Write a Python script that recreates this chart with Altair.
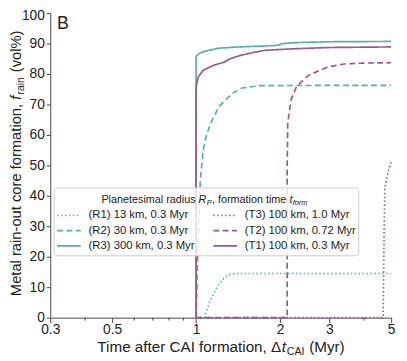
import altair as alt
import pandas as pd

# ---------------- data ----------------
series = ["R1", "R2", "R3", "T3", "T2", "T1"]
legend_labels = ["(R1) 13 km, 0.3 Myr", "(R2) 30 km, 0.3 Myr", "(R3) 300 km, 0.3 Myr",
                 "(T3) 100 km, 1.0 Myr", "(T2) 100 km, 0.72 Myr", "(T1) 100 km, 0.3 Myr"]
colors = ["#56b29e", "#56b29e", "#56b29e", "#9b5a85", "#9b5a85", "#9b5a85"]
dashes = [[1.5, 2.5], [6, 3.5], [1, 0], [1.5, 2.5], [6, 3.5], [1, 0]]

r1_t = [1.0, 1.07, 1.12, 1.18, 1.245, 1.31, 1.39, 5.0]
r1_f = [0, 0, 5.3, 9.6, 12.6, 14.1, 14.5, 14.5]
r2_t = [1.0, 1.01, 1.02, 1.035, 1.06, 1.09, 1.13, 1.21, 1.35, 1.46, 1.7, 5.0]
r2_f = [0, 15, 30, 45, 55, 60, 64, 69.4, 73.7, 75.4, 76.2, 76.3]
r3_t = [1.0, 1.0, 1.02, 1.05, 1.09, 1.21, 1.43, 1.77, 1.95, 2.05, 2.25, 3.0, 5.0]
r3_f = [0, 85.7, 86.6, 87.2, 87.6, 88.5, 88.9, 89.2, 89.4, 90.0, 90.3, 90.6, 90.7]
t3_t = [1.0, 4.68, 4.70, 4.72, 4.75, 4.88, 5.0]
t3_f = [0, 0, 15, 30, 42.6, 48, 51]
t2_t = [1.0, 2.12, 2.12, 2.13, 2.19, 2.29, 2.53, 2.96, 3.39, 3.98, 5.0]
t2_f = [0, 0, 50, 64, 71.6, 75.9, 79.6, 82.3, 83.3, 83.6, 83.7]
t1_t = [1.0, 1.0, 1.017, 1.059, 1.149, 1.262, 1.314, 1.426, 1.59, 1.77, 2.26, 3.0, 5.0]
t1_f = [0, 75.8, 79, 81.2, 82.8, 83.9, 84.9, 86.0, 87.0, 87.8, 88.3, 88.7, 88.9]

x_ticks = [0.3, 0.5, 1, 2, 3, 5]
x_minor = [0.4, 0.6, 0.7, 0.8, 0.9, 4]
y_ticks = [0, 10, 20, 30, 40, 50, 60, 70, 80, 90, 100]

# ---------------- helpers ----------------
FONT = "Liberation Sans"
INK = "#222222"
AX = "#444444"
W_PX, H_PX = 347, 310

AW = {' ': 278, 'P': 667, 'l': 222, 'a': 556, 'n': 556, 'e': 556, 't': 278, 's': 500,
      'i': 222, 'm': 833, 'r': 333, 'd': 556, 'u': 556, 'R': 722, ',': 278, 'f': 278,
      'o': 556, 'T': 611, 'C': 722, 'A': 667, 'I': 278, 'M': 833, 'y': 500, '(': 333,
      ')': 333, 'v': 500, '%': 889, '-': 333, 'c': 500, 'Δ': 668, 'k': 500, '.': 278}


def tw(s, size):
    return sum(AW.get(c, 556) for c in s) * size / 1000.0


one = pd.DataFrame({"k": [0]})


def txt(s, x, y, size, italic=False, angle=0, align="left", baseline="alphabetic"):
    kw = dict(font=FONT, fontSize=size, color=INK, align=align, baseline=baseline, text=s)
    if italic:
        kw["fontStyle"] = "italic"
    if angle:
        kw["angle"] = angle
    return alt.Chart(one).mark_text(**kw).encode(x=alt.value(x), y=alt.value(y))


def compose_h(head, tail, anchor_x, y):
    """head is right-aligned at anchor_x; tail pieces follow to the right."""
    out = [txt(head[0], anchor_x, y, head[1], head[2], align="right")]
    x = anchor_x
    for s, size, italic, dy, gap in tail:
        x += gap
        out.append(txt(s, x, y + dy, size, italic))
        x += tw(s, size)
    return out


def compose_v(head, tail, x, anchor_y):
    """Rotated text reading upwards; head ends at anchor_y, tail continues upward."""
    out = [txt(head[0], x, anchor_y, head[1], head[2], angle=270, align="right")]
    y = anchor_y
    for s, size, italic, dx, gap in tail:
        y -= gap
        out.append(txt(s, x + dx, y, size, italic, angle=270))
        y -= tw(s, size)
    return out


# ---------------- curves ----------------
rows = []
for s, ts, fs in zip(series, [r1_t, r2_t, r3_t, t3_t, t2_t, t1_t],
                     [r1_f, r2_f, r3_f, t3_f, t2_f, t1_f]):
    for i, (t, f) in enumerate(zip(ts, fs)):
        rows.append({"series": s, "t": t, "f": f, "i": i})
df = pd.DataFrame(rows)

xscale = alt.Scale(type="log", domain=[0.3, 5], nice=False)
lines = alt.Chart(df).mark_line(strokeWidth=1.7, strokeCap="butt").encode(
    x=alt.X("t:Q", scale=xscale, title=None,
            axis=alt.Axis(values=x_ticks, format="~g", tickSize=5, labelPadding=0,
                          labelFlush=False)),
    y=alt.Y("f:Q", scale=alt.Scale(domain=[0, 100], nice=False), title=None,
            axis=alt.Axis(values=y_ticks, tickSize=4, labelPadding=2,
                          labelOffset={"condition": {"test": "datum.value === 100", "value": 3},
                                       "value": 0})),
    color=alt.Color("series:N", scale=alt.Scale(domain=series, range=colors), legend=None),
    strokeDash=alt.StrokeDash("series:N", scale=alt.Scale(domain=series, range=dashes),
                              legend=None),
    order="i:Q",
)

minor = alt.Chart(pd.DataFrame({"v": x_minor})).mark_rule(color=AX, strokeWidth=1).encode(
    x=alt.X("v:Q", title=None), y=alt.value(H_PX), y2=alt.value(H_PX + 3))

layers = [lines, minor]

# ---------------- legend ----------------
layers.append(alt.Chart(one).mark_rect(fill="white", fillOpacity=0.8, stroke="#cccccc",
                                       strokeWidth=1, cornerRadius=3).encode(
    x=alt.value(4), x2=alt.value(314), y=alt.value(178), y2=alt.value(247)))

SP11 = tw(" ", 11)
layers += compose_h(("Planetesimal radius", 11, False),
                    [("R", 11, True, 0, SP11), ("P", 7.5, True, 2, 0.3),
                     (", formation time", 11, False, 0, 0.3),
                     ("t", 11, True, 0, SP11), ("form", 7.5, True, 2, 0.3)],
                    52 + tw("Planetesimal radius", 11), 193)

row_y = [206, 221.5, 237]
for k, (s, lab) in enumerate(zip(series, legend_labels)):
    col = k // 3
    r = k % 3
    x0 = 7 if col == 0 else 166
    layers.append(alt.Chart(one).mark_rule(stroke=colors[k], strokeDash=dashes[k],
                                           strokeWidth=1.7, strokeCap="butt").encode(
        x=alt.value(x0), x2=alt.value(x0 + 24), y=alt.value(row_y[r])))
    layers.append(txt(lab, x0 + 32, row_y[r], 11.5, baseline="middle"))

# ---------------- panel label and axis titles ----------------
layers.append(txt("B", 7, 11.5, 18, baseline="middle"))

XT = 15.5
x_parts_w = (tw("Time after CAI formation, Δ", XT) + 0.5 + tw("t", XT) + 0.8
             + tw("CAI", XT * 0.7) + tw(" ", XT) + 0.5 + tw("(Myr)", XT))
x_start = W_PX / 2 - x_parts_w / 2
layers += compose_h(("Time after CAI formation, Δ", XT, False),
                    [("t", XT, True, 0, 0.5), ("CAI", XT * 0.7, False, 3, 0.8),
                     ("(Myr)", XT, False, 0, tw(" ", XT) + 0.5)],
                    x_start + tw("Time after CAI formation, Δ", XT), 345)

YT = 15
y_parts_w = (tw("Metal rain-out core formation,", YT) + tw(" ", YT) + tw("f", YT) + 1.2
             + tw("rain", YT * 0.7) + tw(" ", YT) + 1 + tw("(vol%)", YT))
y_start = 153 + y_parts_w / 2
layers += compose_v(("Metal rain-out core formation,", YT, False),
                    [("f", YT, True, 0, tw(" ", YT)), ("rain", YT * 0.7, False, 3, 1.2),
                     ("(vol%)", YT, False, 0, tw(" ", YT) + 1)],
                    -30, y_start - tw("Metal rain-out core formation,", YT))

chart = alt.layer(*layers).properties(
    width=W_PX, height=H_PX,
    autosize=alt.AutoSizeParams(type="none"),
    padding={"left": 43, "top": 2, "right": 8, "bottom": 45},
).configure_view(stroke=None).configure_axis(
    grid=False, domainColor=AX, tickColor=AX, labelColor=INK, labelFont=FONT,
    labelFontSize=14, domainWidth=1, tickWidth=1,
)

chart.save("out.html", embed_options={"renderer": "svg", "actions": False})
